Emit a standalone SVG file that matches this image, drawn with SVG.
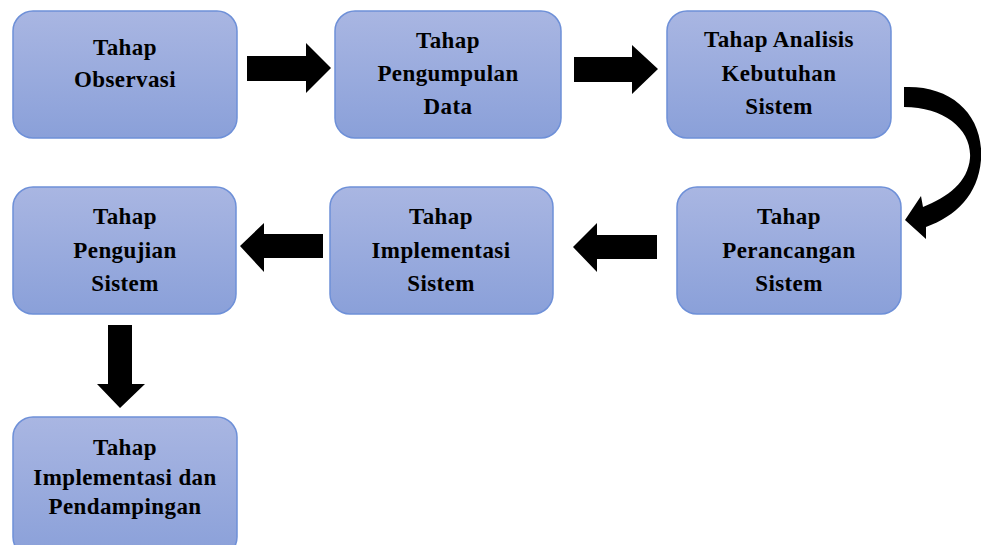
<svg xmlns="http://www.w3.org/2000/svg" width="981" height="545" viewBox="0 0 981 545">
<defs>
<linearGradient id="g" x1="0" y1="0" x2="0" y2="1">
<stop offset="0" stop-color="#a9b6e2"/>
<stop offset="1" stop-color="#8aa0d9"/>
</linearGradient>
<style>
.box{fill:url(#g);stroke:#6e90d8;stroke-width:1.5}
.t{font-family:"Liberation Serif","Times New Roman",serif;font-weight:bold;font-size:23px;letter-spacing:0.4px;fill:#000;text-anchor:middle}
.ar{fill:#000}
</style>
</defs>
<rect width="981" height="545" fill="#ffffff"/>
<g id="n1"><rect class="box" x="13" y="11" width="224" height="127" rx="20"/>
<text class="t" x="125" y="55">Tahap</text><text class="t" x="125" y="87">Observasi</text></g>
<g id="n2"><rect class="box" x="335" y="11" width="226" height="127" rx="20"/>
<text class="t" x="448" y="48">Tahap</text><text class="t" x="448" y="81">Pengumpulan</text><text class="t" x="448" y="114">Data</text></g>
<g id="n3"><rect class="box" x="667" y="11" width="224" height="127" rx="20"/>
<text class="t" x="779" y="47">Tahap Analisis</text><text class="t" x="779" y="81">Kebutuhan</text><text class="t" x="779" y="114">Sistem</text></g>
<g id="n4"><rect class="box" x="677" y="187" width="224" height="127" rx="20"/>
<text class="t" x="789" y="224">Tahap</text><text class="t" x="789" y="258">Perancangan</text><text class="t" x="789" y="291">Sistem</text></g>
<g id="n5"><rect class="box" x="330" y="187" width="223" height="127" rx="20"/>
<text class="t" x="441" y="224">Tahap</text><text class="t" x="441" y="258">Implementasi</text><text class="t" x="441" y="291">Sistem</text></g>
<g id="n6"><rect class="box" x="13" y="187" width="223" height="127" rx="20"/>
<text class="t" x="125" y="224">Tahap</text><text class="t" x="125" y="258">Pengujian</text><text class="t" x="125" y="291">Sistem</text></g>
<g id="n7"><rect class="box" x="13" y="417" width="224" height="140" rx="20"/>
<text class="t" x="125" y="455">Tahap</text><text class="t" x="125" y="485">Implementasi dan</text><text class="t" x="125" y="514">Pendampingan</text></g>
<g id="connectors">
<path class="ar" d="M247,56 H306 V43 L331,68 L306,93 V81 H247 Z"/>
<path class="ar" d="M574,57 H632 V45 L658,69 L632,94 V82 H574 Z"/>
<path class="ar" d="M904,87 C952,85 984,115 981,160 C978,195 956,216 926,227 L926,239 L905,220 L921,196 L923,207 C948,197 968,182 970,158 C972,130 945,107 904,107 Z"/>
<path class="ar" d="M657,235 H597 V223 L573,247 L597,272 V259 H657 Z"/>
<path class="ar" d="M323,234 H264 V223 L240,246 L264,272 V258 H323 Z"/>
<path class="ar" d="M108,325 H132 V384 H145 L120,408 L97,384 H108 Z"/>
</g>
</svg>
